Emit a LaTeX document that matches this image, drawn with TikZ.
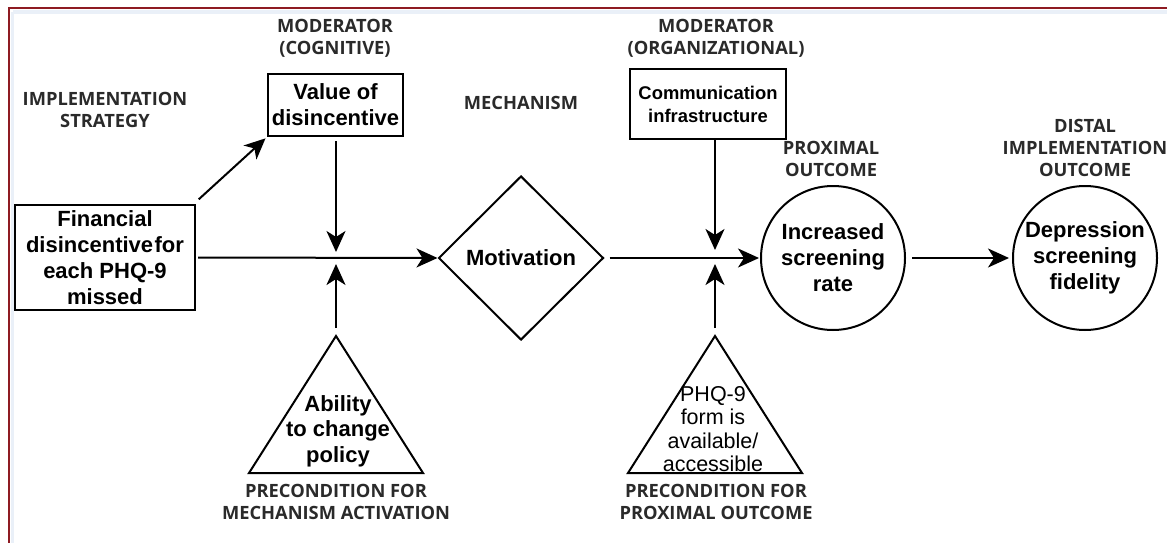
\documentclass[tikz,border=0pt]{standalone}
\usepackage{fontspec}
\setmainfont{Liberation Sans}
\newfontfamily\headfont{Open Sans}
\usetikzlibrary{arrows.meta,shapes.geometric}
\definecolor{framered}{HTML}{8E1B22}
\definecolor{headgray}{HTML}{2A2A2A}
\definecolor{tintblue}{HTML}{EAF0F8}
\begin{document}
\begin{tikzpicture}[x=1pt,y=-1pt,
  head/.style={font=\headfont\bfseries\fontsize{18.3}{22}\selectfont, text=headgray, align=center, inner sep=0pt},
  box/.style={draw, line width=2pt, align=center, inner sep=0pt, font=\bfseries\fontsize{22}{26}\selectfont},
  circ/.style={box, circle, minimum size=144pt},
  tri/.style={draw, line width=2pt, line join=miter},
  tritext/.style={align=center, inner sep=0pt},
  link/.style={line width=2pt, -{Stealth[length=21pt,width=19pt,inset=6pt]}}]

\useasboundingbox (0,0) rectangle (1167,543);
\fill[white] (0,0) rectangle (1167,543);

% frame along the top and left edges
\draw[tintblue, line width=4pt] (13,12) -- (1167,12);
\draw[tintblue, line width=3pt] (12,12) -- (12,543);
\draw[framered, line width=2.5pt] (9,543) -- (9,8) -- (1167,8);

% column headings
\node[head] (hStrat) at (105,110) {IMPLEMENTATION\\STRATEGY};
\node[head] (hCog) at (335,38) {MODERATOR\\(COGNITIVE)};
\node[head] (hMech) at (521,103) {MECHANISM};
\node[head] (hOrg) at (716,38) {MODERATOR\\(ORGANIZATIONAL)};
\node[head] (hProx) at (831,159) {PROXIMAL\\OUTCOME};
\node[head] (hDist) at (1085,148) {DISTAL\\IMPLEMENTATION\\OUTCOME};
\node[head] (hPre1) at (336,502) {PRECONDITION FOR\\MECHANISM ACTIVATION};
\node[head] (hPre2) at (716,502) {PRECONDITION FOR\\PROXIMAL OUTCOME};

% main elements
\node[box, minimum width=180pt, minimum height=105pt] (fin) at (105,257.5)
  {Financial\\disincentive\kern1.5pt for\\each PHQ-9\\missed};
\node[box, minimum width=135pt, minimum height=62pt] (val) at (335.5,105)
  {Value of\\disincentive};
\node[box, minimum width=156pt, minimum height=70pt,
      font=\bfseries\fontsize{18.4}{23}\selectfont] (com) at (708,104)
  {Communication\\infrastructure};
\node[box, diamond, aspect=1, minimum width=165pt, minimum height=164pt] (mot) at (521,258)
  {Motivation};
\node[circ] (inc) at (833,258) {Increased\\screening\\rate};
\node[circ] (dep) at (1085,258) {Depression\\screening\\fidelity};

% preconditions
\draw[tri] (249,473) -- (336,336) -- (423,473) -- cycle;
\coordinate (abApex) at (336,336);
\node[tritext, font=\bfseries\fontsize{22}{25.5}\selectfont] (ability) at (338,431)
  {Ability\\to change\\policy};
\draw[tri] (628,473) -- (715,336) -- (802,473) -- cycle;
\coordinate (phApex) at (715,336);
\node[tritext, font=\fontsize{21.5}{23.3}\selectfont] (phq) at (713,429)
  {PHQ-9\\form is\\available/\\accessible};

% junction points on the causal path
\coordinate (jA) at (336,252);
\coordinate (jB) at (336,264);
\coordinate (jC) at (715,250);
\coordinate (jD) at (715,264);

% connectors
\draw[link, shorten <=2pt] (fin.east) -- (mot.west);
\draw[link, shorten <=1pt, shorten >=2pt] ([shift={(2,-4)}]fin.north east) -- (val.south west);
\draw[link, shorten <=4pt] (val.south -| jA) -- (jA);
\draw[link, shorten <=8pt] (abApex) -- (jB);
\draw[link, shorten <=5pt, shorten >=1pt] (mot.east) -- (inc.west);
\draw[link, shorten <=0pt] (jC |- com.south) -- (jC);
\draw[link, shorten <=8pt] (phApex) -- (jD);
\draw[link, shorten <=6pt, shorten >=3pt] (inc.east) -- (dep.west);
\end{tikzpicture}
\end{document}
